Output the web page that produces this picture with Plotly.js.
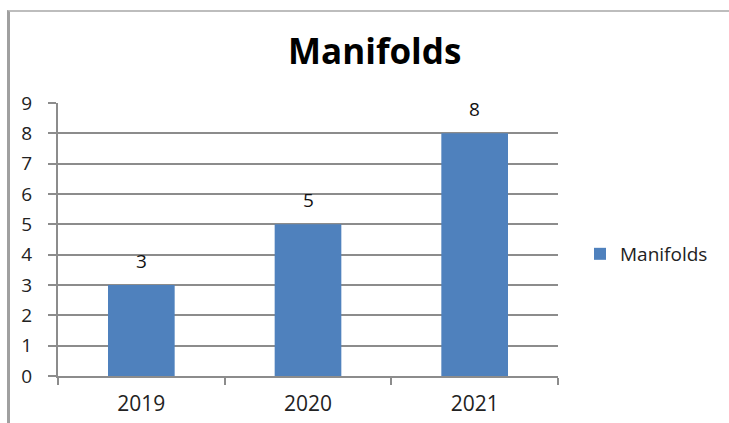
<!DOCTYPE html>
<html>
<head>
<meta charset="utf-8">
<script src="https://cdn.plot.ly/plotly-3.0.1.min.js"></script>
<style>
  html, body { margin: 0; padding: 0; background: #fff; }
  #wrap { position: relative; width: 729px; height: 423px; }
  #chart { width: 729px; height: 423px; }
  #frame { position: absolute; left: 7px; top: 10px; right: 0; bottom: 0;
           border-left: 3px solid #a0a0a0; border-top: 2px solid #bdbdbd;
           pointer-events: none; }
</style>
</head>
<body>
<div id="wrap">
  <div id="chart"></div>
  <div id="frame"></div>
</div>
<script>
const categories = ['2019', '2020', '2021'];
const manifolds = [3, 5, 8];
const seriesName = 'Manifolds';
const chartTitle = 'Manifolds';
const yTicks = [0, 1, 2, 3, 4, 5, 6, 7, 8, 9];

const FONT = '"Open Sans", "Liberation Sans", sans-serif';
const GRID = '#8c8c8c';

const trace = {
  type: 'bar',
  x: categories,
  y: manifolds,
  name: seriesName,
  marker: { color: '#4f81bd', line: { width: 0 } },
  hoverinfo: 'skip'
};

// category axis: annotation x given as the category index
const annotations = categories.map((c, i) => ({
  x: i, y: manifolds[i], xref: 'x', yref: 'y',
  text: String(manifolds[i]),
  showarrow: false, yanchor: 'bottom', yshift: 9,
  font: { family: FONT, size: 19, color: '#111' }
}));

const layout = {
  width: 729, height: 423,
  margin: { l: 58, r: 171, t: 103, b: 47 },
  paper_bgcolor: '#fff', plot_bgcolor: '#fff',
  bargap: 0.6,
  showlegend: true,
  title: {
    text: '<b>' + chartTitle + '</b>',
    font: { family: FONT, size: 35, color: '#000' },
    xref: 'container', x: 0.514, xanchor: 'center',
    yref: 'container', y: 0.878, yanchor: 'middle'
  },
  xaxis: {
    type: 'category',
    range: [-0.5, categories.length - 0.5],
    showgrid: false, zeroline: false,
    showline: true, linecolor: GRID, linewidth: 2,
    ticks: 'outside', tickson: 'boundaries', ticklen: 7, tickcolor: GRID, tickwidth: 2,
    ticklabelstandoff: 8,
    tickfont: { family: FONT, size: 21, color: '#222' },
    fixedrange: true
  },
  yaxis: {
    range: [0, 9], tickvals: yTicks,
    showgrid: true, gridcolor: GRID, gridwidth: 2,
    zeroline: false,
    showline: true, linecolor: GRID, linewidth: 2,
    ticks: 'outside', ticklen: 8, tickcolor: GRID, tickwidth: 2,
    ticklabelstandoff: 12,
    tickfont: { family: FONT, size: 19, color: '#222' },
    fixedrange: true
  },
  legend: {
    x: 1.044, xanchor: 'left', y: 0.447, yanchor: 'middle',
    font: { family: FONT, size: 19, color: '#222' },
    itemwidth: 30, bgcolor: 'rgba(0,0,0,0)'
  },
  annotations: annotations
};

Plotly.newPlot('chart', [trace], layout, { displayModeBar: false, staticPlot: true });
</script>
</body>
</html>
